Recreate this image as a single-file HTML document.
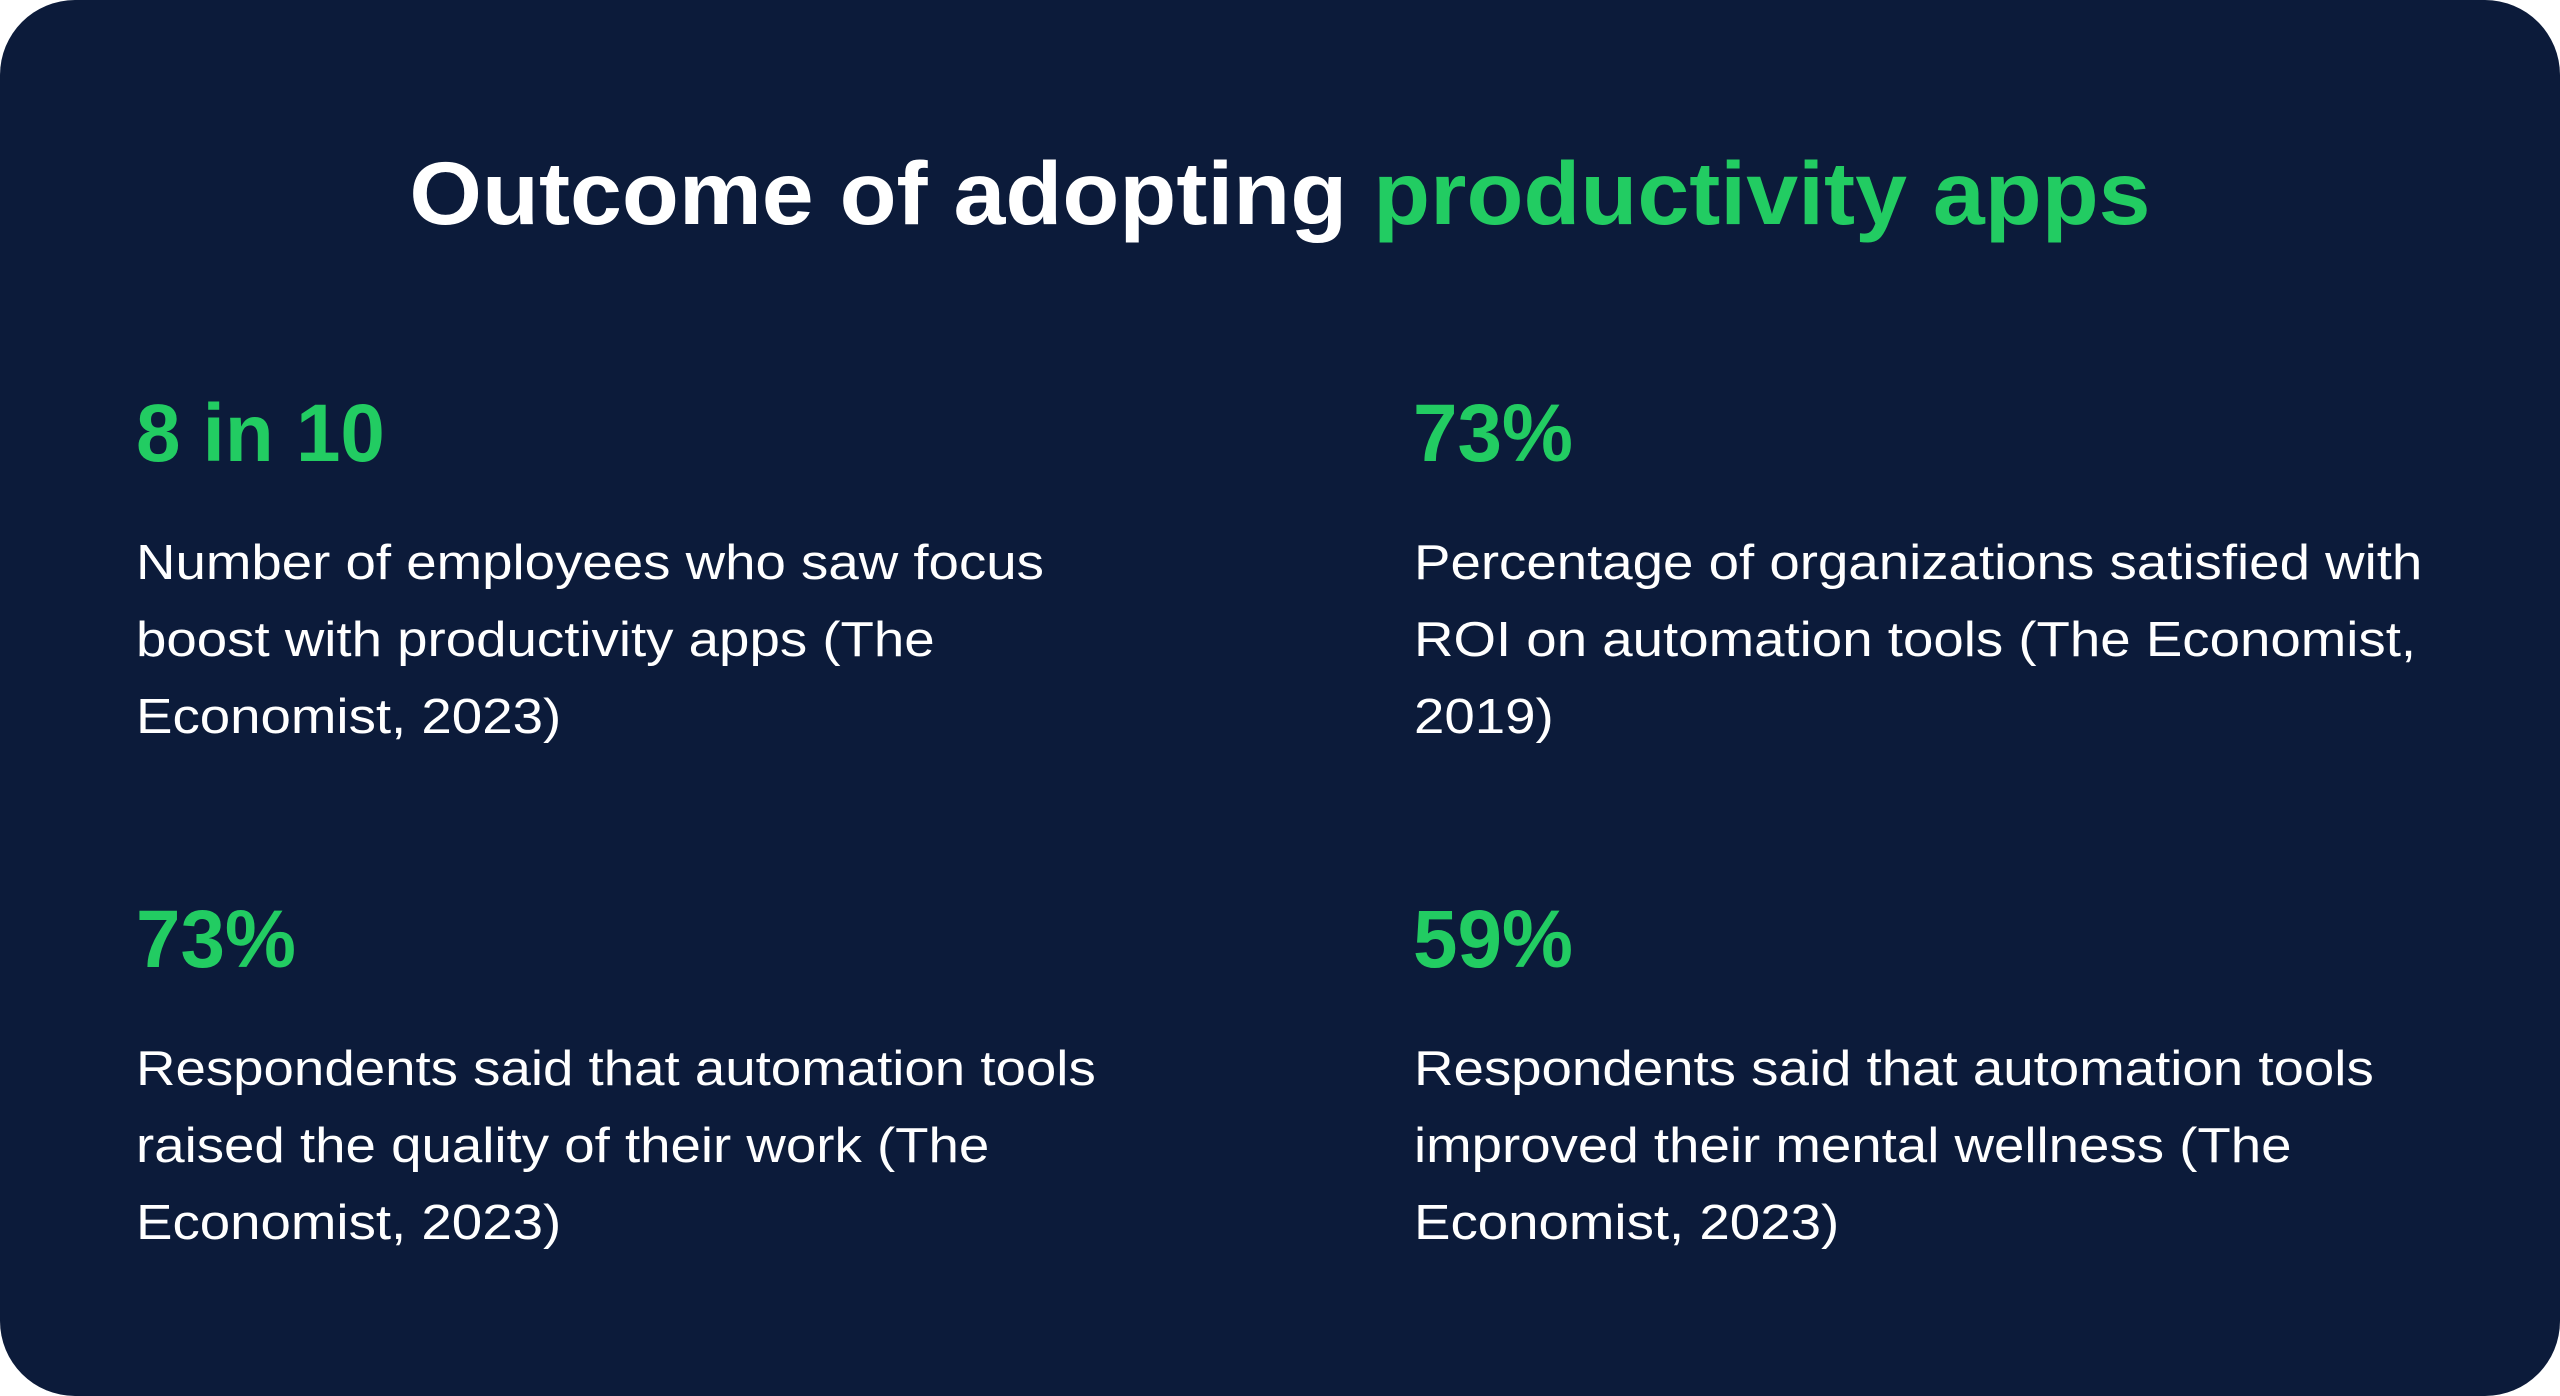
<!DOCTYPE html>
<html><head><meta charset="utf-8"><style>
html,body{margin:0;padding:0;background:#fff;}
.card{position:absolute;left:0;top:0;width:2560px;height:1396px;background:#0c1b3a;border-radius:75px;overflow:hidden;font-family:"Liberation Sans",sans-serif;}
.t{position:absolute;white-space:nowrap;transform-origin:0 0;}
.title{left:0;width:2560px;text-align:center;top:149px;font-size:89px;line-height:89px;font-weight:bold;color:#fff;transform:scaleX(1.048);transform-origin:50% 0;}
.g{color:#22cc62;}
.stat{font-size:82px;line-height:82px;font-weight:bold;color:#22cc62;transform:scaleX(0.975);}
.body{font-size:49px;line-height:77px;color:#fff;transform:scaleX(1.115);}
</style></head><body>
<div class="card">
<div class="t title">Outcome of adopting <span class="g">productivity apps</span></div>
<div class="t stat" style="left:136px;top:393px">8 in 10</div>
<div class="t stat" style="left:1413px;top:393px">73%</div>
<div class="t body" style="left:136px;top:525px">Number of employees who saw focus<br>boost with productivity apps (The<br>Economist, 2023)</div>
<div class="t body" style="left:1414px;top:525px">Percentage of organizations satisfied with<br>ROI on automation tools (The Economist,<br>2019)</div>
<div class="t stat" style="left:136px;top:899px">73%</div>
<div class="t stat" style="left:1413px;top:899px">59%</div>
<div class="t body" style="left:136px;top:1031px">Respondents said that automation tools<br>raised the quality of their work (The<br>Economist, 2023)</div>
<div class="t body" style="left:1414px;top:1031px">Respondents said that automation tools<br>improved their mental wellness (The<br>Economist, 2023)</div>
</div>
</body></html>
